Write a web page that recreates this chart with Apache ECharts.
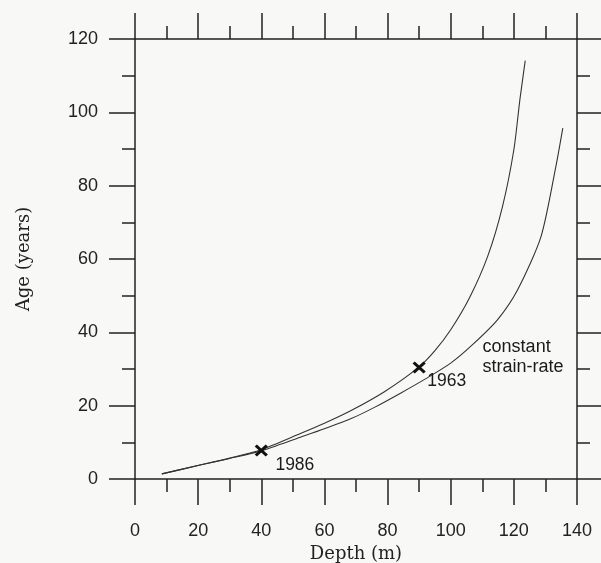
<!DOCTYPE html>
<html>
<head>
<meta charset="utf-8">
<script src="https://cdn.jsdelivr.net/npm/echarts@6/dist/echarts.min.js"></script>
<style>
html,body{margin:0;padding:0;background:#f8f9f7;}
#chart{width:601px;height:563px;}
</style>
</head>
<body>
<div id="chart"></div>
<script>
// Depth (m) vs Age (years)
const upperDepth = [8.5, 20.6, 30, 39.7, 52.4, 60, 68.3, 79, 89.9, 95, 100, 106, 111.7, 116.4, 120, 121.9, 123.6];
const upperAge   = [1.4, 3.8, 5.7, 7.9, 12.4, 15.2, 18.6, 23.8, 30.5, 35, 40.7, 49.5, 60.7, 74.3, 89.8, 103.4, 114.1];
const lowerDepth = [8.5, 20.6, 30, 39.7, 52.4, 60, 68.3, 76, 84.1, 92, 100, 107, 114.8, 121.2, 128.6, 133.3, 135.5];
const lowerAge   = [1.4, 3.8, 5.6, 7.6, 11.4, 13.7, 16.4, 19.6, 23.4, 27.3, 31.6, 36.7, 43.4, 51.6, 66.1, 85.2, 95.7];
const markerDepth = [40, 90];
const markerAge = [7.8, 30.4];
const markerText = ['1986', '1963'];
const curveLabel = 'constant\nstrain-rate';
const curveLabelAt = [110.1, 33.4];
const xTicks = [0, 20, 40, 60, 80, 100, 120, 140];
const yTicks = [0, 20, 40, 60, 80, 100, 120];

const axisColor = '#222';
const sans = '"Liberation Sans", Arial, Helvetica, sans-serif';
const serif = '"DejaVu Serif", serif';

function zip(a, b) { return a.map((v, i) => [v, b[i]]); }

const baseAxis = {
  axisLine: { show: true, onZero: false, lineStyle: { color: axisColor, width: 1.5 } },
  axisTick: { show: true, inside: false, length: 26, lineStyle: { color: axisColor, width: 1.5 } },
  minorTick: { show: true, splitNumber: 2, length: 13, lineStyle: { color: axisColor, width: 1.5 } },
  splitLine: { show: false },
  minorSplitLine: { show: false }
};

const chart = echarts.init(document.getElementById('chart'), null, { renderer: 'canvas' });
chart.setOption({
  backgroundColor: '#f8f9f7',
  animation: false,
  grid: { left: 135, right: 24, top: 39, bottom: 84, containLabel: false, outerBoundsMode: 'none' },
  xAxis: [
    Object.assign({}, baseAxis, {
      type: 'value', position: 'bottom', min: xTicks[0], max: xTicks[xTicks.length - 1], interval: 20,
      name: 'Depth (m)', nameLocation: 'middle', nameGap: 66,
      nameTextStyle: { fontFamily: serif, fontSize: 18, color: '#222' },
      axisLabel: { show: true, margin: 43, fontFamily: sans, fontSize: 18, color: '#222' }
    }),
    Object.assign({}, baseAxis, {
      type: 'value', position: 'top', min: xTicks[0], max: xTicks[xTicks.length - 1], interval: 20,
      axisLabel: { show: false }
    })
  ],
  yAxis: [
    Object.assign({}, baseAxis, {
      type: 'value', position: 'left', min: yTicks[0], max: yTicks[yTicks.length - 1], interval: 20,
      name: 'Age (years)', nameLocation: 'middle', nameGap: 102,
      nameTextStyle: { fontFamily: serif, fontSize: 18, color: '#222' },
      axisLabel: { show: true, margin: 37, fontFamily: sans, fontSize: 18, color: '#222' }
    }),
    Object.assign({}, baseAxis, {
      type: 'value', position: 'right', min: yTicks[0], max: yTicks[yTicks.length - 1], interval: 20,
      axisLabel: { show: false }
    })
  ],
  series: [
    {
      type: 'line', data: zip(upperDepth, upperAge), smooth: 0.25, showSymbol: false,
      lineStyle: { color: '#333', width: 1.1 }, z: 2
    },
    {
      type: 'line', data: zip(lowerDepth, lowerAge), smooth: 0.25, showSymbol: false,
      lineStyle: { color: '#333', width: 1.1 }, z: 2
    },
    {
      type: 'scatter',
      data: markerDepth.map((d, i) => ({
        value: [d, markerAge[i]],
        label: {
          show: true, formatter: markerText[i], position: 'right', distance: 0,
          offset: i === 0 ? [6, 15] : [0, 14],
          fontFamily: sans, fontSize: 17.5, color: '#1a1a1a'
        }
      })),
      symbol: 'path://M0,0L10,10M10,0L0,10',
      symbolSize: [11, 10],
      itemStyle: { color: 'none', borderColor: '#111', borderWidth: 3, opacity: 1 },
      z: 3
    },
    {
      type: 'scatter',
      data: [{ value: curveLabelAt }],
      symbolSize: 0,
      itemStyle: { opacity: 1 },
      label: {
        show: true, formatter: curveLabel, position: 'inside', align: 'left', verticalAlign: 'middle',
        lineHeight: 20, fontFamily: sans, fontSize: 18, color: '#1a1a1a'
      },
      z: 3
    }
  ]
});
</script>
</body>
</html>
